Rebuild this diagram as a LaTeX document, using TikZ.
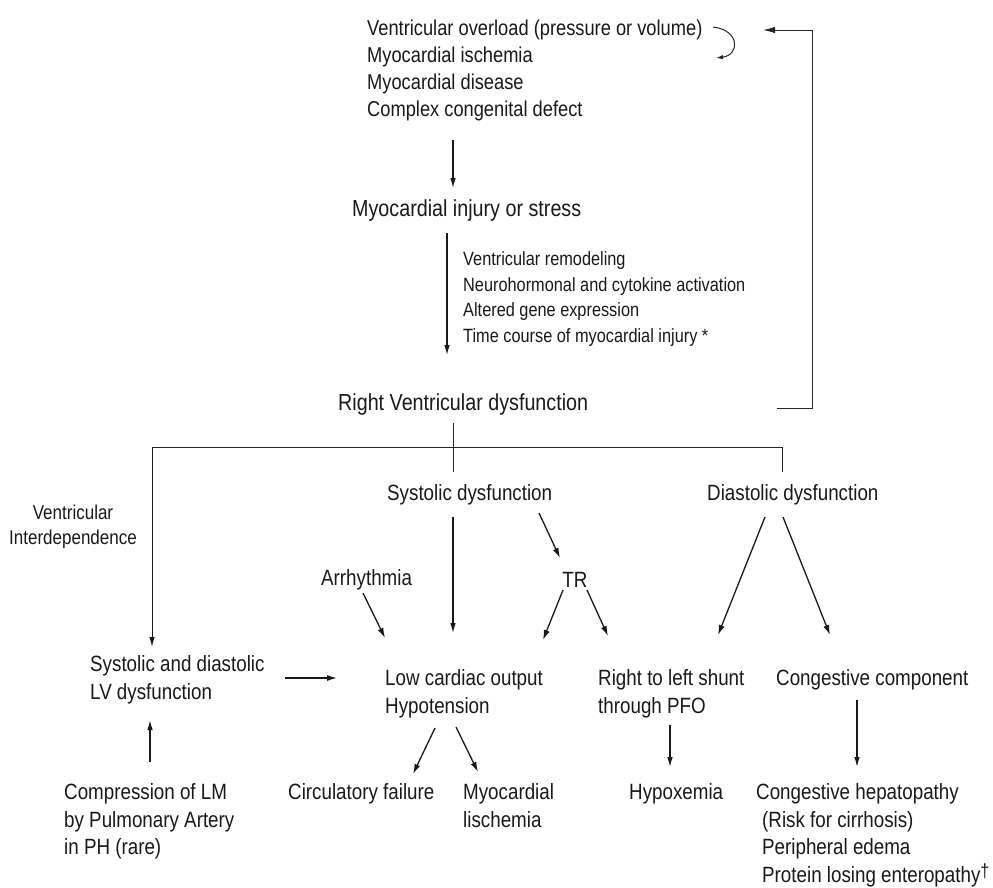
\documentclass[tikz,border=0pt]{standalone}
\usepackage{fontspec}
\setmainfont{Liberation Sans}[FakeStretch=0.85]
\usetikzlibrary{arrows.meta}
\begin{document}
\begin{tikzpicture}[x=1pt,y=-1pt,
  t/.style={inner sep=0pt, anchor=north west, align=left, text=black!90},
  fa/.style={font=\fontsize{21.5}{27}\selectfont},
  fb/.style={font=\fontsize{23.2}{28}\selectfont},
  fc/.style={font=\fontsize{19.2}{25.7}\selectfont},
  fd/.style={font=\fontsize{22.1}{27.7}\selectfont},
  fe/.style={font=\fontsize{20}{25}\selectfont},
  ln/.style={line width=1pt, draw=black!85},
  arr/.style={line width=1.3pt, draw=black!90, -{Latex[length=10pt,width=6pt]}},
  varr/.style={line width=1.1pt, draw=black!90, -{Latex[length=10pt,width=5.5pt]}},
]
\useasboundingbox (0,0) rectangle (993,887);

% ---------- text nodes ----------
\node[t,fa] (top) at (367,19.3) {Ventricular overload (pressure or volume)\\Myocardial ischemia\\Myocardial disease\\Complex congenital defect};
\node[t,fb] (inj) at (352,199.7) {Myocardial injury or stress};
\node[t,fc] (mech) at (463,251.2) {Ventricular remodeling\\Neurohormonal and cytokine activation\\Altered gene expression\\Time course of myocardial injury *};
\node[t,fb] (rvd) at (338,393.7) {Right Ventricular dysfunction};
\node[t,fd] (sys) at (387,484.1) {Systolic dysfunction};
\node[t,fd] (dia) at (707,484.1) {Diastolic dysfunction};
\node[t,fe,anchor=north,align=center] (vi) at (73,504.9) {Ventricular\\Interdependence};
\node[t,fd] (arr) at (321,569.1) {Arrhythmia};
\node[t,fd,anchor=north] (tr) at (575,572.1) {TR};
\node[t,fd] (lv) at (90,655.1) {Systolic and diastolic\\LV dysfunction};
\node[t,fd] (low) at (385,669.1) {Low cardiac output\\Hypotension};
\node[t,fd] (rtl) at (598,669.1) {Right to left shunt\\through PFO};
\node[t,fd] (cong) at (776,669.1) {Congestive component};
\node[t,fd] (comp) at (64,783.1) {Compression of LM\\by Pulmonary Artery\\in PH (rare)};
\node[t,fd] (circ) at (288,783.1) {Circulatory failure};
\node[t,fd] (myo) at (463,783.1) {Myocardial\\lischemia};
\node[t,fd] (hyp) at (629,783.1) {Hypoxemia};
\node[t,fd] (hep) at (762,783.1) {\hspace*{-6pt}Congestive hepatopathy\\(Risk for cirrhosis)\\Peripheral edema\\Protein losing enteropathy\raisebox{5pt}{\fontsize{19}{19}\selectfont †}};

% ---------- connector end points ----------
\coordinate (c1) at (713,27);   \coordinate (c2) at (716,58);
\coordinate (f1) at (777,408);  \coordinate (f2) at (812,408);
\coordinate (f3) at (812,30);   \coordinate (f4) at (763,30);
\coordinate (a1) at (453,140);  \coordinate (b1) at (453,188);
\coordinate (a2) at (447,233);  \coordinate (b2) at (447,355);
\coordinate (r1) at (453,423);  \coordinate (r2) at (453,472);
\coordinate (hl) at (152,447);  \coordinate (hr) at (782,447);
\coordinate (hd) at (782,472);  \coordinate (vl) at (152,647);
\coordinate (a3) at (453,517);  \coordinate (b3) at (453,633);
\coordinate (a4) at (363,593);  \coordinate (b4) at (385,638);
\coordinate (a5) at (539,513);  \coordinate (b5) at (560,558);
\coordinate (a6) at (563,590);  \coordinate (b6) at (543,640);
\coordinate (a7) at (587,590);  \coordinate (b7) at (608,636);
\coordinate (a8) at (765,517);  \coordinate (b8) at (718,635);
\coordinate (a9) at (783,517);  \coordinate (b9) at (830,635);
\coordinate (a10) at (285,678); \coordinate (b10) at (337,678);
\coordinate (a11) at (150,762); \coordinate (b11) at (150,720);
\coordinate (a12) at (435,728); \coordinate (b12) at (413,774);
\coordinate (a13) at (456,727); \coordinate (b13) at (478,772);
\coordinate (a14) at (670,725); \coordinate (b14) at (670,767);
\coordinate (a15) at (857,700); \coordinate (b15) at (857,767);

% ---------- connectors ----------
\draw[line width=1pt, draw=black!85, -{Latex[length=7pt,width=4.5pt]}] (c1) .. controls (740,30) and (740,55) .. (c2);
\draw[ln, -{Latex[length=12pt,width=6.5pt]}] (f1) -- (f2) -- (f3) -- (f4);
\draw[varr] (a1) -- (b1);
\draw[varr] (a2) -- (b2);
\draw[ln] (r1) -- (r2);
\draw[ln] (hd) -- (hr) -- (hl);
\draw[varr, line width=1pt] (hl) -- (vl);
\draw[varr] (a3) -- (b3);
\draw[arr] (a4) -- (b4);
\draw[arr] (a5) -- (b5);
\draw[arr] (a6) -- (b6);
\draw[arr] (a7) -- (b7);
\draw[arr] (a8) -- (b8);
\draw[arr] (a9) -- (b9);
\draw[arr] (a10) -- (b10);
\draw[varr] (a11) -- (b11);
\draw[arr] (a12) -- (b12);
\draw[arr] (a13) -- (b13);
\draw[varr] (a14) -- (b14);
\draw[varr] (a15) -- (b15);
\end{tikzpicture}
\end{document}
